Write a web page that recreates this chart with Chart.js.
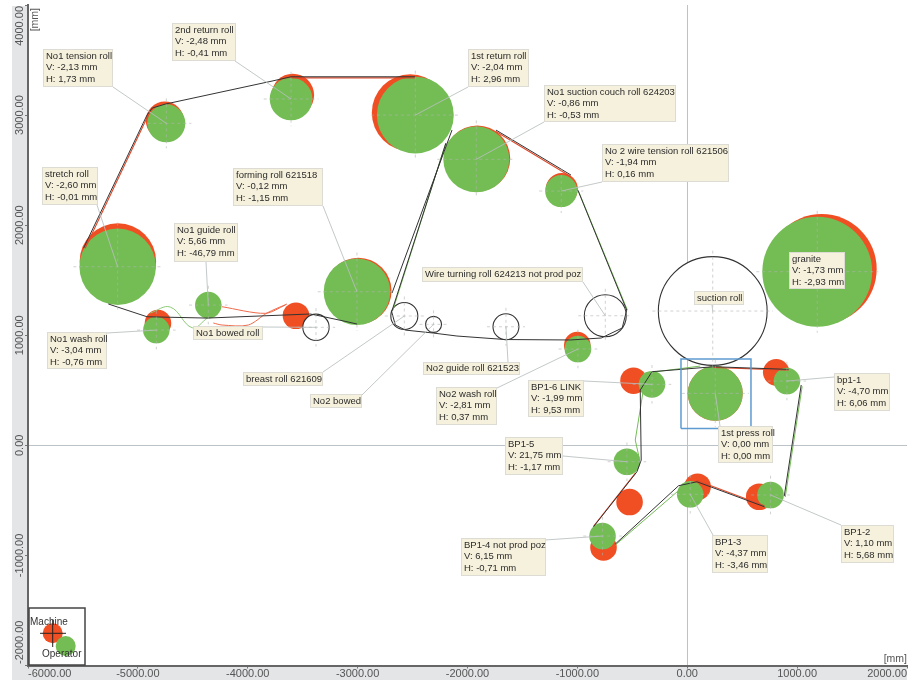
<!DOCTYPE html>
<html><head><meta charset="utf-8">
<style>html,body{margin:0;padding:0;background:#fff}canvas{display:block;filter:blur(0.6px)}</style>
<script src="https://cdn.jsdelivr.net/npm/chart.js@4/dist/chart.umd.js"></script>
</head><body><canvas id="c" width="920" height="680"></canvas>
<script>
// ---- axis ticks (mm)
const xTicks=[-6000,-5000,-4000,-3000,-2000,-1000,0,1000,2000];
const yTicks=[-2000,-1000,0,1000,2000,3000,4000];
// ---- rolls
const rollNames=["No1 tension roll","2nd return roll","1st return roll","stretch roll","No1 guide roll","forming roll 621518","No1 wash roll","No1 suction couch roll 624203","No 2 wire tension roll 621506","granite","No2 wash roll","1st press roll","BP1-6 LINK","bp1-1","BP1-5","BP1-4 not prod poz","BP1-3","BP1-2"];
const operatorX=[-4741,-3606,-2475,-5184,-4359,-3006,-4832,-1920,-1147,1183,-995,255,-321,907,-549,-771,27,758];
const operatorY=[2925,3146,3000,1622,1274,1395,1047,2598,2310,1577,875,472,554,584,-149,-824,-445,-451];
const machineX=[-4755,-3590,-2521,-5182,-3561,-2994,-4817,-1911,-1142,1224,-1001,255,-489,810,-525,-762,94,655];
const machineY=[2950,3182,3021,1670,1177,1402,1111,2605,2328,1602,911,472,587,663,-515,-927,-376,-467];
const rollRadius=[173,194,350,348,121,303,121,300,146,500,121,250,121,121,121,121,121,121];
const rollV=["-2,13","-2,48","-2,04","-2,60","5,66","-0,12","-3,04","-0,86","-1,94","-1,73","-2,81","0,00","-1,99","-4,70","21,75","6,15","-4,37","1,10"];
const rollH=["1,73","-0,41","2,96","-0,01","-46,79","-1,15","-0,76","-0,53","0,16","-2,93","0,37","0,00","9,53","6,06","-1,17","-0,71","-3,46","5,68"];
const openNames=["No1 bowed roll","breast roll 621609","No2 bowed","No2 guide roll 621523","Wire turning roll 624213 not prod poz","suction roll"];
const openX=[-3379,-2575,-2309,-1650,-746,232];
const openY=[1072,1175,1099,1077,1177,1220];
const openRadius=[120,123,73,118,191,495];
// ---- belts, N = gap
const N=[null,null];
const darkBelt=[[-5494,1792],[-4917,3000],[-4869,3064],[-4750,3100],[-3779,3309],[-3606,3348],[-2475,3348],N,
 [-2141,2864],[-2687,1383],N,[-2196,2746],[-2690,1214],[-2657,1093],[-2566,1047],[-2311,1020],[-2096,993],[-1656,961],[-1065,957],[-783,975],[-592,1066],[-551,1229],[-996,2319],N,
 [-1058,2455],[-1741,2864],N,[-5269,1284],[-4917,1168],[-4371,1156],[-3431,1193],[-3340,1175],[-3097,1123],[-3006,1102],N,
 [-321,669],[239,714],[922,690],N,[1037,548],[883,-461],N,[703,-558],[88,-331],[-79,-367],[-655,-897],N,[-853,-739],[-458,-240],[-419,-134],[-428,502],[-321,669]];
const redBelt=[[-5480,1790],[-4905,3000],N,[-3606,3338],[-2475,3338],N,[-1741,2850],[-1058,2440],N,[239,707],[922,683],N,[703,-548],[88,-320],N,[-853,-735],[-470,-250]];
const greenBelt=[[-2200,2740],[-2680,1225],N,[-990,2310],[-545,1229],N,[-398,654],[118,720],N,[-400,502],[-473,48],[-437,-115],N,[-655,-906],[-64,-398],N,[892,-470],[1046,536]];
const washGreenCurve=[[-4887,1202],[-4705,1256],[-4505,1068],[-4368,1156]];
const guideRedCurveA=[[-4234,1259],[-3840,1199],[-3658,1274]];
const guideRedCurveB=[[-4313,1111],[-4234,1093],[-3995,1093],[-3825,1202],[-3643,1284]];
const pressFrame=[[-57,154],[580,154],[580,784],[-57,784],[-57,154]];
// ---- note layout in page pixels: left, top, right, bottom, leader start x, y
const noteBoxes=[[43,49,113,87,113,87],[172,23,236,61,235,61],[468,49,529,87,468,87],[42,167,98,205,97,205],[174,223,238,262,206,262],[233,168,323,206,323,206],[47,332,107,369,107,333],[544,85,676,122,544,122],[602,144,729,182,602,182],[789,252,845,289,null,null],[436,387,497,425,497,388],[718,426,773,463,720,426],[528,380,584,417,584,381],[834,373,890,411,834,377],[505,437,563,475,563,456],[461,538,546,576,545,540],[712,535,768,573,713,535],[841,525,894,563,841,525]];
const openBoxes=[[193,326,263,340,262,327],[243,372,323,386,323,372],[310,394,362,408,362,395],[423,362,520,375,508,362],[422,267,583,282,583,282],[694,291,744,305,712,305]];

const pts=(xs,ys)=>xs.map((x,i)=>({x,y:ys[i]}));
const line=a=>a.map(p=>({x:p[0],y:p[1]}));
const pxR=(ctx,arr)=>{const s=ctx.chart.scales.x;return arr[ctx.dataIndex]===undefined?0:s.getPixelForValue(arr[ctx.dataIndex])-s.getPixelForValue(0);};
const hideLine={showLine:true,pointRadius:0,pointHoverRadius:0,fill:false};

const overlay={id:'overlay',
 beforeDraw(ch){const g=ch.ctx,a=ch.chartArea;g.save();g.fillStyle='#e3e5e7';g.fillRect(12,a.top+1,a.left-12,680-a.top);g.fillRect(12,a.bottom,a.right-12,680-a.bottom);g.restore();},
 afterDatasetsDraw(ch){
  const g=ch.ctx,X=ch.scales.x,Y=ch.scales.y,a=ch.chartArea;
  const ox=operatorX.concat(openX),oy=operatorY.concat(openY),rr=rollRadius.concat(openRadius);
  const names=rollNames.concat(openNames),boxes=noteBoxes.concat(openBoxes);
  g.save();
  // centre crosses
  g.setLineDash([3,3]);g.lineWidth=1;g.strokeStyle='rgba(175,180,175,.6)';
  ox.forEach((x,i)=>{const cx=X.getPixelForValue(x),cy=Y.getPixelForValue(oy[i]),r=X.getPixelForValue(rr[i])-X.getPixelForValue(0)+6;
   g.beginPath();g.moveTo(cx-r,cy);g.lineTo(cx+r,cy);g.moveTo(cx,cy-r);g.lineTo(cx,cy+r);g.stroke();});
  g.setLineDash([]);
  // leaders
  g.strokeStyle='rgba(185,190,190,.85)';
  boxes.forEach((b,i)=>{if(b[4]===null)return;g.beginPath();g.moveTo(b[4],b[5]);g.lineTo(X.getPixelForValue(ox[i]),Y.getPixelForValue(oy[i]));g.stroke();});
  // notes
  g.font='9.5px "Liberation Sans"';g.textBaseline='middle';g.textAlign='left';
  boxes.forEach((b,i)=>{
   g.fillStyle='#f6f1dc';g.fillRect(b[0],b[1],b[2]-b[0],b[3]-b[1]);
   g.strokeStyle='#dcdcd4';g.lineWidth=1;g.strokeRect(b[0]+.5,b[1]+.5,b[2]-b[0]-1,b[3]-b[1]-1);
   g.fillStyle='#2b2b2b';
   if(i<rollNames.length){g.fillText(names[i],b[0]+3,b[1]+7);g.fillText('V: '+rollV[i]+' mm',b[0]+3,b[1]+18.7);g.fillText('H: '+rollH[i]+' mm',b[0]+3,b[1]+30.2);}
   else g.fillText(names[i],b[0]+3,(b[1]+b[3])/2);
  });
  // inset key
  g.fillStyle='#fff';g.fillRect(29,608,56,57);
  g.strokeStyle='#444';g.lineWidth=1.5;g.strokeRect(29,608,56,57);
  g.fillStyle='#f04e23';g.beginPath();g.arc(52.7,633.3,10,0,7);g.fill();
  g.fillStyle='#74bd55';g.beginPath();g.arc(65.7,646,10,0,7);g.fill();
  g.strokeStyle='#222';g.lineWidth=1;g.beginPath();g.moveTo(40,633.3);g.lineTo(66,633.3);g.moveTo(52.7,620);g.lineTo(52.7,647);g.stroke();
  g.fillStyle='#333';g.font='10px "Liberation Sans"';g.fillText('Machine',30,622);g.fillText('Operator',42,654);
  // axis end labels and units
  g.fillStyle='#555';g.font='10.5px "Liberation Sans"';g.textAlign='right';g.fillText('[mm]',907,659);
  g.font='11px "Liberation Sans"';
  const rot=(t,x,y,al)=>{g.save();g.translate(x,y);g.rotate(-Math.PI/2);g.textAlign=al;g.fillText(t,0,0);g.restore();};
  rot(yTicks[6].toFixed(2),20,6,'right');rot(yTicks[0].toFixed(2),20,664,'left');
  g.font='10.5px "Liberation Sans"';rot('[mm]',35,8,'right');
  g.restore();
 }};

new Chart(document.getElementById('c'),{type:'scatter',plugins:[overlay],
 data:{datasets:[
  {label:'frame',data:line(pressFrame),...hideLine,borderColor:'#5d9bd0',borderWidth:1.5,order:0},
  {label:'dark',data:line(darkBelt),...hideLine,borderColor:'#333',borderWidth:1,order:1},
  {label:'red',data:line(redBelt),...hideLine,borderColor:'#e2492a',borderWidth:1.1,order:2},
  {label:'green',data:line(greenBelt),...hideLine,borderColor:'#74bd55',borderWidth:1,order:2},
  {label:'wash',data:line(washGreenCurve),...hideLine,tension:.4,borderColor:'#8ccb75',borderWidth:1,order:2},
  {label:'guideA',data:line(guideRedCurveA),...hideLine,tension:.3,borderColor:'#ee6a4a',borderWidth:1,order:2},
  {label:'guideB',data:line(guideRedCurveB),...hideLine,tension:.3,borderColor:'#ee6a4a',borderWidth:1,order:2},
  {label:'Open rolls',data:pts(openX,openY),pointRadius:c=>pxR(c,openRadius),pointBackgroundColor:'#fff',pointBorderColor:'#333',pointBorderWidth:1.1,order:3},
  {label:'Operator',data:pts(operatorX,operatorY),pointRadius:c=>pxR(c,rollRadius),pointBackgroundColor:'#74bd55',pointBorderWidth:0,order:4},
  {label:'Machine',data:pts(machineX,machineY),pointRadius:c=>pxR(c,rollRadius),pointBackgroundColor:'#f04e23',pointBorderWidth:0,order:5}
 ]},
 options:{responsive:false,animation:false,
  layout:{padding:{left:12,top:5,right:13,bottom:0}},
  plugins:{legend:{display:false},tooltip:{enabled:false}},
  scales:{
   x:{type:'linear',min:-6000,max:2000,afterFit:s=>{s.height=14.5},afterBuildTicks:s=>{s.ticks=xTicks.map(v=>({value:v}))},
    border:{color:'#666',width:2},
    grid:{color:c=>c.tick&&c.tick.value===0?'#bcc3c8':'rgba(0,0,0,0)',tickColor:'#777',tickLength:3,lineWidth:1},
    ticks:{align:'inner',maxRotation:0,minRotation:0,padding:-1.5,color:'#555',font:{family:'Liberation Sans',size:11},callback:v=>v.toFixed(2)}},
   y:{type:'linear',min:-2000,max:4000,afterFit:s=>{s.width=16},afterBuildTicks:s=>{s.ticks=yTicks.map(v=>({value:v}))},
    border:{color:'#666',width:2},
    grid:{color:c=>c.tick&&c.tick.value===0?'#bcc3c8':'rgba(0,0,0,0)',tickColor:'#777',tickLength:3,lineWidth:1},
    ticks:{minRotation:90,maxRotation:90,crossAlign:'center',padding:-17,color:'#555',font:{family:'Liberation Sans',size:11},callback:v=>(v===yTicks[0]||v===yTicks[6])?'':v.toFixed(2)}}
  }}});
</script></body></html>
